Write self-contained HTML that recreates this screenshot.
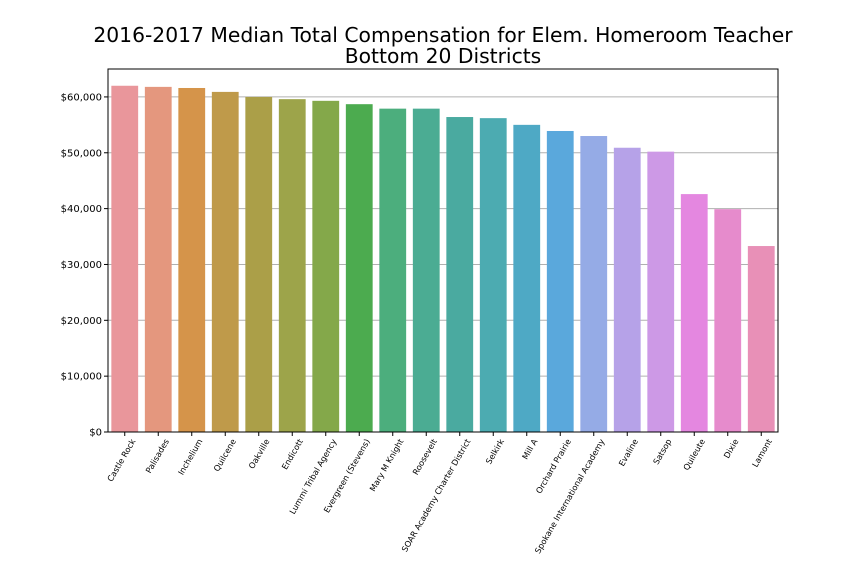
<!DOCTYPE html>
<html><head><meta charset="utf-8"><style>
body{margin:0;background:#fff;}
svg{font-family:"DejaVu Sans","Liberation Sans",sans-serif;}
</style></head><body>
<svg id="chart" width="864" height="576">
<text x="443" y="42" text-anchor="middle" font-size="20.3">2016-2017 Median Total Compensation for Elem. Homeroom Teacher</text>
<text x="443" y="63" text-anchor="middle" font-size="20.3">Bottom 20 Districts</text>
</svg>
<script>
const categories=["Castle Rock","Palisades","Inchelium","Quilcene","Oakville","Endicott","Lummi Tribal Agency","Evergreen (Stevens)","Mary M Knight","Roosevelt","SOAR Academy Charter District","Selkirk","Mill A","Orchard Prairie","Spokane International Academy","Evaline","Satsop","Quileute","Dixie","Lamont"];
const values=[62000,61800,61600,60900,60000,59600,59300,58700,57900,57900,56400,56200,55000,53900,53000,50900,50200,42600,39900,33300];
const colors=["#e9969b","#e4977e","#d5944a","#bf9a4a","#ab9f48","#9da44a","#84a84a","#4cab4f","#4cae7d","#4bac93","#4aaaa0","#4cabb1","#4ea9c5","#5aa8dc","#95abe6","#b6a2e8","#cd99e6","#e487e0","#e68bcc","#e890b7"];
const yTicks=[0,10000,20000,30000,40000,50000,60000];
const NS="http://www.w3.org/2000/svg";
const svg=document.getElementById("chart");
const L=108,R=778,T=69,B=432,yMax=65000;
const y=v=>B-(v/yMax)*(B-T);
const step=(R-L)/categories.length;
const x=i=>L+step*i+step/2;
function mk(t,a){const e=document.createElementNS(NS,t);for(const k in a)e.setAttribute(k,a[k]);svg.appendChild(e);return e;}
yTicks.forEach(v=>{
  if(v>0){const g=mk("line",{x1:L,x2:R,y1:y(v),y2:y(v),stroke:"#b0b0b0","stroke-width":1});
  
  }
  const tk=mk("line",{x1:L-4,x2:L,y1:y(v),y2:y(v),stroke:"#000"});
  
  
  const t=mk("text",{x:L-6,y:y(v)+3.5,"text-anchor":"end","font-size":10});
  t.textContent="$"+v.toLocaleString("en-US");
  
  
});
categories.forEach((c,i)=>{
  const w=step*0.8;
  const r=mk("rect",{x:x(i)-w/2,y:y(values[i]),width:w,height:B-y(values[i]),fill:colors[i]});
  
  
  const tk=mk("line",{x1:x(i),x2:x(i),y1:B,y2:B+4,stroke:"#000"});
  
  
  const ax=x(i)+11, ay=B+9;
  const t=mk("text",{x:ax,y:ay,"text-anchor":"end","font-size":8.2,transform:`rotate(-60 ${ax} ${ay})`});
  t.textContent=c;
  
  
});
const f=mk("rect",{x:L,y:T,width:R-L,height:B-T,fill:"none",stroke:"#000","stroke-width":1});


</script>
</body></html>
